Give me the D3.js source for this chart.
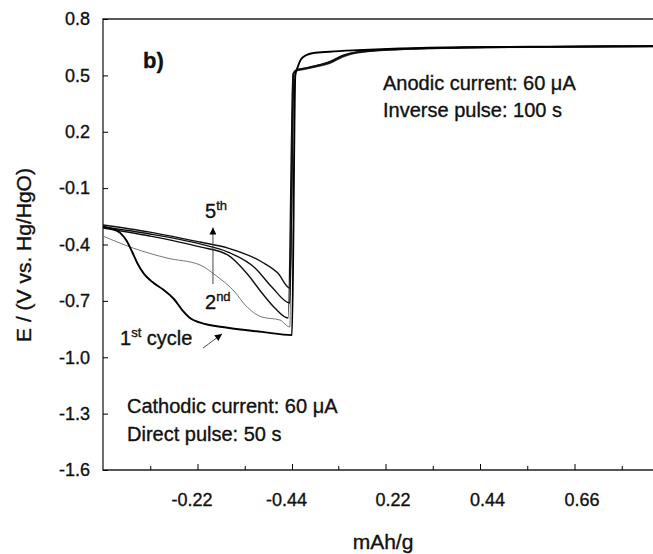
<!DOCTYPE html>
<html>
<head>
<meta charset="utf-8">
<script src="https://cdn.jsdelivr.net/npm/d3@7"></script>
<style>
  body { margin: 0; background: #fff; }
  svg { display: block; font-family: Arial, "Liberation Sans", sans-serif; }
  svg text { stroke: #111; stroke-width: 0.35px; }
</style>
</head>
<body>
<svg width="653" height="554"></svg>
<script>
// potential axis + capacity ticks
const yTicks = [-1.6, -1.3, -1.0, -0.7, -0.4, -0.1, 0.2, 0.5, 0.8];
const cathMajor = [-0.22, -0.44];
const cathMinor = [-0.11, -0.33];
const anodMajor = [0.22, 0.44, 0.66];
const anodMinor = [0.11, 0.33, 0.55, 0.77];

// cathodic branch [mAh/g, V] then anodic branch, one pair per cycle
const cyc1Cath = [[0, -0.305], [-0.020, -0.315], [-0.040, -0.338], [-0.055, -0.380], [-0.068, -0.440],
  [-0.080, -0.500], [-0.095, -0.555], [-0.115, -0.600], [-0.140, -0.640], [-0.165, -0.690],
  [-0.185, -0.750], [-0.205, -0.795], [-0.225, -0.815], [-0.290, -0.843], [-0.370, -0.865],
  [-0.440, -0.882]];
const cyc1Anod = [[0.010, 0.50], [0.015, 0.54], [0.023, 0.585], [0.035, 0.607], [0.052, 0.619],
  [0.090, 0.626], [0.154, 0.634], [0.254, 0.643], [0.400, 0.650], [0.600, 0.653], [0.850, 0.656]];

const cyc2Cath = [[0, -0.355], [-0.070, -0.419], [-0.149, -0.472], [-0.226, -0.509], [-0.261, -0.562],
  [-0.307, -0.653], [-0.331, -0.722], [-0.370, -0.786], [-0.412, -0.802], [-0.435, -0.839]];
const cyc2Anod = [[0.004, 0.505], [0.012, 0.522], [0.030, 0.530], [0.060, 0.545], [0.091, 0.563],
  [0.120, 0.595], [0.154, 0.618], [0.250, 0.636], [0.400, 0.645], [0.600, 0.649], [0.850, 0.652]];

const cyc3Cath = [[0, -0.312], [-0.109, -0.355], [-0.226, -0.413], [-0.291, -0.456], [-0.338, -0.562],
  [-0.370, -0.658], [-0.400, -0.738], [-0.431, -0.791]];
const cyc3Anod = [[0.005, 0.510], [0.012, 0.526], [0.030, 0.533], [0.060, 0.548], [0.091, 0.567],
  [0.120, 0.600], [0.154, 0.621], [0.250, 0.638], [0.400, 0.647], [0.600, 0.651], [0.850, 0.654]];

const cyc4Cath = [[0, -0.307], [-0.109, -0.344], [-0.226, -0.397], [-0.291, -0.440], [-0.354, -0.525],
  [-0.393, -0.626], [-0.435, -0.711]];
const cyc4Anod = [[0.006, 0.512], [0.013, 0.528], [0.030, 0.536], [0.060, 0.551], [0.090, 0.570],
  [0.120, 0.603], [0.154, 0.623], [0.250, 0.640], [0.400, 0.648], [0.600, 0.652], [0.850, 0.655]];

const cyc5Cath = [[0, -0.296], [-0.109, -0.334], [-0.226, -0.387], [-0.291, -0.419], [-0.370, -0.493],
  [-0.407, -0.552], [-0.435, -0.632]];
const cyc5Anod = [[0.007, 0.515], [0.014, 0.530], [0.030, 0.538], [0.060, 0.553], [0.090, 0.573],
  [0.120, 0.606], [0.154, 0.625], [0.250, 0.641], [0.400, 0.649], [0.600, 0.653], [0.850, 0.656]];

const cycles = [
  {cath: cyc2Cath, anod: cyc2Anod, color: '#666', width: 0.9},
  {cath: cyc3Cath, anod: cyc3Anod, color: '#111', width: 1.4},
  {cath: cyc4Cath, anod: cyc4Anod, color: '#111', width: 1.4},
  {cath: cyc5Cath, anod: cyc5Anod, color: '#111', width: 1.4},
  {cath: cyc1Cath, anod: cyc1Anod, color: '#000', width: 1.9}
];

const svg = d3.select('svg');
const mLeft = 103, mTop = 19, mBottom = 470, mRight = 653;

const xC = d3.scaleLinear().domain([0, -0.44]).range([mLeft, 292]);
const xA = d3.scaleLinear().domain([0, 0.44]).range([291, 480]);
const y = d3.scaleLinear().domain([-1.6, 0.8]).range([mBottom, mTop]);

// frame
svg.append('path')
  .attr('d', `M${mRight},${mTop}H${mLeft}V${mBottom}H${mRight}`)
  .attr('fill', 'none')
  .attr('stroke', '#222')
  .attr('stroke-width', 1.3);

// y axis
const yAxis = svg.append('g')
  .attr('transform', `translate(${mLeft},0)`)
  .call(d3.axisLeft(y).tickValues(yTicks).tickSize(-5).tickPadding(13)
    .tickFormat(d => d.toFixed(1)));
yAxis.select('.domain').remove();
yAxis.selectAll('text').attr('font-size', 18).attr('font-family', 'Arial, Liberation Sans, sans-serif')
  .attr('fill', '#111');

// x axes (two branches sharing the jump point)
const drawX = (scale, values, size, labels) => {
  const g = svg.append('g')
    .attr('transform', `translate(0,${mBottom})`)
    .call(d3.axisBottom(scale).tickValues(values).tickSize(-size).tickPadding(23)
      .tickFormat(d => labels ? d.toFixed(2) : ''));
  g.select('.domain').remove();
  g.selectAll('text')
    .attr('font-size', 18)
    .attr('font-family', 'Arial, Liberation Sans, sans-serif')
    .attr('fill', '#111')
    .attr('dx', d => d < 0 ? -6 : 7);
};
drawX(xC, cathMinor, 4, false);
drawX(xA, anodMinor, 4, false);
drawX(xC, cathMajor, 6, true);
drawX(xA, anodMajor, 6, true);

// curves
const line = d3.line().x(d => d[0]).y(d => d[1]).curve(d3.curveMonotoneX);
const defs = svg.append('defs');
defs.append('clipPath').attr('id', 'clip')
  .append('rect').attr('x', mLeft).attr('y', mTop)
  .attr('width', mRight - mLeft).attr('height', mBottom - mTop);

svg.append('g').attr('clip-path', 'url(#clip)')
  .selectAll('path')
  .data(cycles)
  .join('path')
  .attr('fill', 'none')
  .attr('stroke', c => c.color)
  .attr('stroke-width', c => c.width)
  .attr('stroke-linejoin', 'round')
  .attr('d', c => line(
    c.cath.map(d => [xC(d[0]), y(d[1])]).concat(c.anod.map(d => [xA(d[0]), y(d[1])]))
  ));

// arrow marker
defs.append('marker')
  .attr('id', 'head')
  .attr('viewBox', '0 0 10 10')
  .attr('refX', 10).attr('refY', 5)
  .attr('markerWidth', 9).attr('markerHeight', 7)
  .attr('markerUnits', 'userSpaceOnUse')
  .attr('orient', 'auto')
  .append('path').attr('d', 'M0,0L10,5L0,10z').attr('fill', '#000');

svg.append('line')
  .attr('x1', xC(-0.256)).attr('y1', y(-0.61))
  .attr('x2', xC(-0.256)).attr('y2', y(-0.31))
  .attr('stroke', '#333').attr('stroke-width', 0.9)
  .attr('marker-end', 'url(#head)');

svg.append('line')
  .attr('x1', xC(-0.233)).attr('y1', y(-0.951))
  .attr('x2', xC(-0.277)).attr('y2', y(-0.876))
  .attr('stroke', '#333').attr('stroke-width', 0.9)
  .attr('marker-end', 'url(#head)');

// texts
const txt = (x, yy, size) => svg.append('text')
  .attr('x', x).attr('y', yy)
  .attr('font-size', size)
  .attr('fill', '#111');

txt(143, 68, 22).attr('font-weight', 'bold').text('b)');
txt(383, 90, 20).text('Anodic current: 60 \u03bcA');
txt(383, 117, 20).text('Inverse pulse: 100 s');
txt(127, 413, 20).text('Cathodic current: 60 \u03bcA');
txt(127, 441, 20).text('Direct pulse: 50 s');

const sup = (x, yy, main, small, rest) => {
  const t = txt(x, yy, 20);
  t.append('tspan').text(main);
  t.append('tspan').attr('font-size', 13).attr('dy', -8).text(small);
  if (rest) t.append('tspan').attr('dy', 8).text(rest);
};
sup(205, 218, '5', 'th');
sup(205, 309, '2', 'nd');
sup(120, 345, '1', 'st', ' cycle');

svg.append('text')
  .attr('transform', 'translate(31,255) rotate(-90)')
  .attr('text-anchor', 'middle')
  .attr('font-size', 21)
  .attr('fill', '#111')
  .text('E / (V vs. Hg/HgO)');

svg.append('text')
  .attr('x', 383).attr('y', 549)
  .attr('text-anchor', 'middle')
  .attr('font-size', 21)
  .attr('fill', '#111')
  .text('mAh/g');
</script>
</body>
</html>
